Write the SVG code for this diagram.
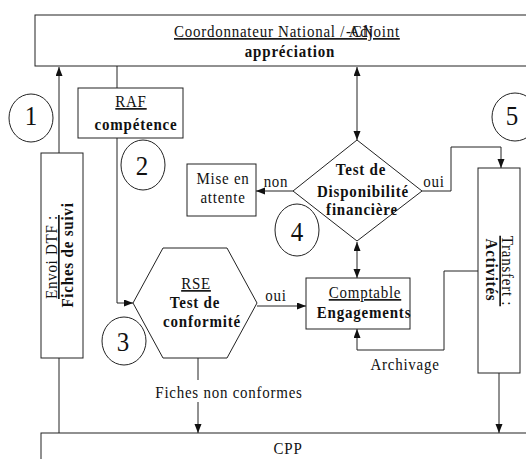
<svg xmlns="http://www.w3.org/2000/svg" width="526" height="459" viewBox="0 0 526 459">
  <style>
    .box { fill: #fff; stroke: #222; stroke-width: 1; }
    .ln { fill: none; stroke: #222; stroke-width: 1; }
    .t { font-family: "Liberation Serif", "Times New Roman", serif; font-size: 15px; letter-spacing: 0.75px; fill: #111; text-anchor: middle; }
    .b { font-weight: bold; letter-spacing: 0.8px; }
    .u { text-decoration: underline; }
    .st { text-anchor: start; }
    .num { font-size: 25px; letter-spacing: 0; }
  </style>
  <defs>
    <marker id="arr" markerUnits="userSpaceOnUse" markerWidth="10" markerHeight="8" refX="9" refY="3.5" orient="auto-start-reverse">
      <path d="M0,0 L9,3.5 L0,7 Z" fill="#111"/>
    </marker>
  </defs>
  <rect width="526" height="459" fill="#fff"/>

  <!-- connectors -->
  <g id="connectors">
    <line class="ln" x1="59" y1="433" x2="59" y2="358"/>
    <line class="ln" x1="59" y1="153" x2="59" y2="67" marker-end="url(#arr)"/>
    <line class="ln" x1="117" y1="66" x2="117" y2="88"/>
    <polyline class="ln" points="117,138 117,303 133,303" marker-end="url(#arr)"/>
    <line class="ln" x1="357" y1="67" x2="357" y2="140" marker-start="url(#arr)" marker-end="url(#arr)"/>
    <line class="ln" x1="293" y1="191" x2="256" y2="191" marker-end="url(#arr)"/>
    <polyline class="ln" points="422,191 451,191 451,147 501,147 501,168" marker-end="url(#arr)"/>
    <line class="ln" x1="357" y1="242" x2="357" y2="278" marker-start="url(#arr)" marker-end="url(#arr)"/>
    <line class="ln" x1="257" y1="306" x2="306" y2="306" marker-end="url(#arr)"/>
    <polyline class="ln" points="478,271 444,271 444,350 357,350 357,329" marker-end="url(#arr)"/>
    <line class="ln" x1="198" y1="358" x2="198" y2="380"/>
    <line class="ln" x1="198" y1="402" x2="198" y2="433" marker-end="url(#arr)"/>
    <line class="ln" x1="499" y1="373" x2="499" y2="433" marker-end="url(#arr)"/>
    <text class="t" transform="translate(276 187) scale(1 1.1)">non</text>
    <text class="t" transform="translate(434 187) scale(1 1.1)">oui</text>
    <text class="t" transform="translate(276 301) scale(1 1.1)">oui</text>
    <text class="t" transform="translate(405 370) scale(1 1.1)">Archivage</text>
    <text class="t" transform="translate(229 398) scale(1 1.1)">Fiches non conformes</text>
  </g>

  <!-- top management box -->
  <g id="coordonnateur">
    <rect class="box" x="35" y="15" width="500" height="51"/>
    <text class="t u st" transform="translate(174 37) scale(1 1.1)">Coordonnateur National / Adjoint</text>
    <text class="t st" transform="translate(346 37) scale(1 1.1)">-CN</text>
    <text class="t b" transform="translate(290 57) scale(1 1.1)">appréciation</text>
  </g>

  <g id="raf">
    <rect class="box" x="78" y="88" width="105" height="50"/>
    <text class="t u" transform="translate(131 107) scale(1 1.1)">RAF</text>
    <text class="t b" transform="translate(136 130) scale(1 1.1)">compétence</text>
  </g>

  <g id="envoi">
    <rect class="box" x="41" y="153" width="42" height="205"/>
    <text class="t u" transform="translate(57 257) rotate(-90) scale(1 1.1)">Envoi DTF :</text>
    <text class="t b" transform="translate(73 255) rotate(-90) scale(1 1.1)">Fiches de suivi</text>
  </g>

  <g id="transfert">
    <rect class="box" x="478" y="168" width="42" height="205"/>
    <text class="t u" transform="translate(502 271) rotate(90) scale(1 1.1)">Transfert :</text>
    <text class="t b" transform="translate(486 270) rotate(90) scale(1 1.1)">Activités</text>
  </g>

  <g id="mise-en-attente">
    <rect class="box" x="187" y="164" width="69" height="52"/>
    <text class="t" transform="translate(223 184) scale(1 1.1)">Mise en</text>
    <text class="t" transform="translate(223 203) scale(1 1.1)">attente</text>
  </g>

  <g id="disponibilite">
    <polygon class="box" points="357,140 422,191 357,241 293,191"/>
    <text class="t b" transform="translate(361 175) scale(1 1.1)">Test de</text>
    <text class="t b" transform="translate(363 197) scale(1 1.1)">Disponibilité</text>
    <text class="t b" transform="translate(362 215) scale(1 1.1)">financière</text>
  </g>

  <g id="rse">
    <polygon class="box" points="163,248 227,248 257,303 227,358 163,358 133,303"/>
    <text class="t u" transform="translate(196 289) scale(1 1.1)">RSE</text>
    <text class="t b" transform="translate(195 308) scale(1 1.1)">Test de</text>
    <text class="t b" transform="translate(202 327) scale(1 1.1)">conformité</text>
  </g>

  <g id="comptable">
    <rect class="box" x="306" y="278" width="104" height="51"/>
    <text class="t u" transform="translate(365 298) scale(1 1.1)">Comptable</text>
    <text class="t b" transform="translate(364 318) scale(1 1.1)">Engagements</text>
  </g>

  <g id="cpp">
    <rect class="box" x="41" y="433" width="500" height="40"/>
    <text class="t" transform="translate(288 454) scale(1 1.1)">CPP</text>
  </g>

  <!-- step numbers -->
  <g id="step1">
    <ellipse class="box" cx="31" cy="118" rx="22" ry="24"/>
    <text class="t num" transform="translate(31 125) scale(1 1.1)">1</text>
  </g>
  <g id="step2">
    <ellipse class="box" cx="143" cy="165" rx="22" ry="25"/>
    <text class="t num" transform="translate(142 175) scale(1 1.1)">2</text>
  </g>
  <g id="step3">
    <ellipse class="box" cx="124" cy="341" rx="22" ry="24"/>
    <text class="t num" transform="translate(123 351) scale(1 1.1)">3</text>
  </g>
  <g id="step4">
    <ellipse class="box" cx="297" cy="230" rx="22" ry="26"/>
    <text class="t num" transform="translate(297 241) scale(1 1.1)">4</text>
  </g>
  <g id="step5">
    <ellipse class="box" cx="515" cy="117" rx="23" ry="24"/>
    <text class="t num" transform="translate(512 125) scale(1 1.1)">5</text>
  </g>
</svg>
